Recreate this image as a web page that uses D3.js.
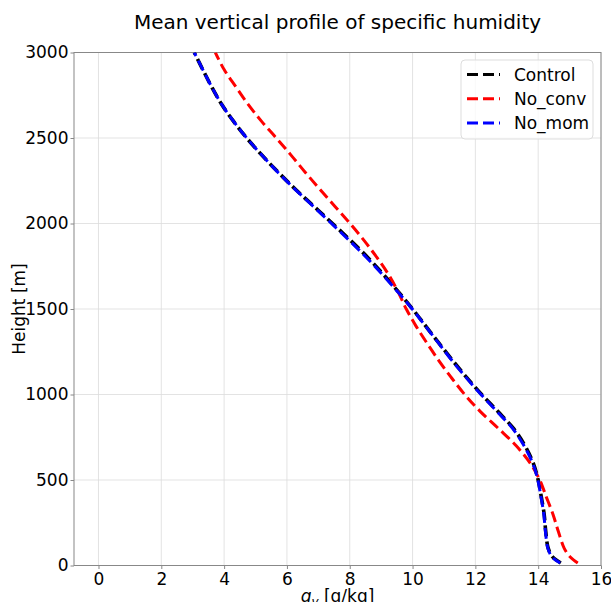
<!DOCTYPE html>
<html>
<head>
<meta charset="utf-8">
<script src="https://d3js.org/d3.v7.min.js"></script>
<style>
  body { margin: 0; background: #fff; }
  text { font-family: "DejaVu Sans", sans-serif; fill: #000; }
</style>
</head>
<body>
<div id="chart-area"></div>
<script>
// Mean vertical profile of specific humidity

var heights = [15, 50, 100, 200, 300, 400, 500, 600, 700, 800, 900, 1000,
    1100, 1200, 1300, 1400, 1500, 1600, 1700, 1800, 1900, 2000,
    2100, 2200, 2300, 2400, 2500, 2600, 2700, 2800, 2900, 3000];

var control = [14.72, 14.46, 14.32, 14.24, 14.19, 14.1, 14.0, 13.84, 13.58, 13.22, 12.72, 12.2,
    11.72, 11.27, 10.84, 10.42, 10.0, 9.55, 9.08, 8.58, 8.03, 7.45,
    6.86, 6.27, 5.72, 5.2, 4.72, 4.29, 3.91, 3.6, 3.32, 3.05];

var noConv = [15.26, 15.02, 14.83, 14.64, 14.47, 14.26, 14.05, 13.74, 13.3, 12.74, 12.16, 11.66,
    11.23, 10.83, 10.46, 10.11, 9.8, 9.54, 9.24, 8.87, 8.46, 8.01,
    7.53, 7.05, 6.58, 6.13, 5.66, 5.18, 4.75, 4.37, 4.0, 3.72];

var noMom = [14.7, 14.44, 14.31, 14.23, 14.18, 14.09, 13.99, 13.82, 13.55, 13.19, 12.69, 12.18,
    11.7, 11.25, 10.83, 10.41, 9.99, 9.53, 9.05, 8.54, 7.99, 7.42,
    6.84, 6.26, 5.71, 5.2, 4.72, 4.29, 3.91, 3.6, 3.32, 3.05];

var seriesNames = ["Control", "No_conv", "No_mom"];
var seriesColors = ["#000000", "#ff0000", "#0000ff"];
var seriesValues = [control, noConv, noMom];

var xTicks = [0, 2, 4, 6, 8, 10, 12, 14, 16];
var yTicks = [0, 500, 1000, 1500, 2000, 2500, 3000];

var margin = { left:74, right:10, top:52.5, bottom:36.5 },
    width = 611 - margin.left - margin.right,
    height = 602 - margin.top - margin.bottom;

var svg = d3.select("#chart-area").append("svg")
    .attr("width", 611)
    .attr("height", 602);

var g = svg.append("g")
    .attr("transform", "translate(" + margin.left + "," + margin.top + ")");

// Scales
var x = d3.scaleLinear().domain([-0.78, 16]).range([0, width]);
var y = d3.scaleLinear().domain([0, 3000]).range([height, 0]);

// Grid
g.append("g").selectAll("line").data(xTicks).enter().append("line")
    .attr("x1", function(d) { return x(d); })
    .attr("x2", function(d) { return x(d); })
    .attr("y1", 0).attr("y2", height)
    .attr("stroke", "#dcdcdc").attr("stroke-width", 0.8);
g.append("g").selectAll("line").data(yTicks).enter().append("line")
    .attr("y1", function(d) { return y(d); })
    .attr("y2", function(d) { return y(d); })
    .attr("x1", 0).attr("x2", width)
    .attr("stroke", "#dcdcdc").attr("stroke-width", 0.8);

// Axes
var xAxisCall = d3.axisBottom(x).tickValues(xTicks).tickSize(3.5).tickPadding(4)
    .tickFormat(d3.format("d"));
var yAxisCall = d3.axisLeft(y).tickValues(yTicks).tickSize(3.5).tickPadding(2)
    .tickFormat(d3.format("d"));

var xAxis = g.append("g")
    .attr("transform", "translate(0," + height + ")")
    .call(xAxisCall);
var yAxis = g.append("g").call(yAxisCall);

[xAxis, yAxis].forEach(function(a) {
    a.select(".domain").remove();
    a.selectAll(".tick line").attr("stroke", "#888");
    a.selectAll(".tick text")
        .attr("font-family", "DejaVu Sans")
        .attr("font-size", "17px")
        .attr("fill", "#000");
});

// Frame
g.append("rect")
    .attr("width", width).attr("height", height)
    .attr("fill", "none").attr("stroke", "#888").attr("stroke-width", 1);

// Lines
var line = d3.line()
    .curve(d3.curveCatmullRom)
    .x(function(d) { return x(d.v); })
    .y(function(d) { return y(d.h); });

g.append("defs").append("clipPath").attr("id", "clip")
    .append("rect").attr("width", width).attr("height", height);

// dash phases differ a little so the overlapping black and blue both show
var dashOffsets = [0, 0, 2.5];

seriesValues.forEach(function(vals, i) {
    var pts = heights.map(function(h, k) { return { h: h, v: vals[k] }; });
    g.append("path")
        .attr("clip-path", "url(#clip)")
        .attr("d", line(pts))
        .attr("fill", "none")
        .attr("stroke", seriesColors[i])
        .attr("stroke-width", i == 0 ? 3.6 : 3)
        .attr("stroke-dasharray", "11,5")
        .attr("stroke-dashoffset", dashOffsets[i]);
});

// Legend
var legend = svg.append("g").attr("transform", "translate(461,60)");
legend.append("rect")
    .attr("width", 132).attr("height", 79)
    .attr("rx", 4)
    .attr("fill", "#fff").attr("fill-opacity", 0.8)
    .attr("stroke", "#ddd");
seriesNames.forEach(function(name, i) {
    var ly = 14.5 + i * 24.3;
    legend.append("line")
        .attr("x1", 6).attr("x2", 39)
        .attr("y1", ly).attr("y2", ly)
        .attr("stroke", seriesColors[i])
        .attr("stroke-width", 3)
        .attr("stroke-dasharray", "11,5");
    legend.append("text")
        .attr("x", 53).attr("y", ly + 6)
        .attr("font-size", "17px")
        .text(name);
});

// Title and axis labels
svg.append("text")
    .attr("x", margin.left + width / 2).attr("y", 29)
    .attr("text-anchor", "middle")
    .attr("font-size", "20px")
    .text("Mean vertical profile of specific humidity");

svg.append("text")
    .attr("transform", "rotate(-90)")
    .attr("x", -(margin.top + height / 2)).attr("y", 25)
    .attr("text-anchor", "middle")
    .attr("font-size", "17px")
    .text("Height [m]");

var xl = svg.append("text")
    .attr("x", margin.left + width / 2).attr("y", 602)
    .attr("text-anchor", "middle")
    .attr("font-size", "17px");
xl.append("tspan").attr("font-style", "italic").text("q");
xl.append("tspan").attr("font-style", "italic").attr("font-size", "12px").attr("dy", 4).text("v");
xl.append("tspan").attr("dy", -4).text(" [g/kg]");
</script>
</body>
</html>
